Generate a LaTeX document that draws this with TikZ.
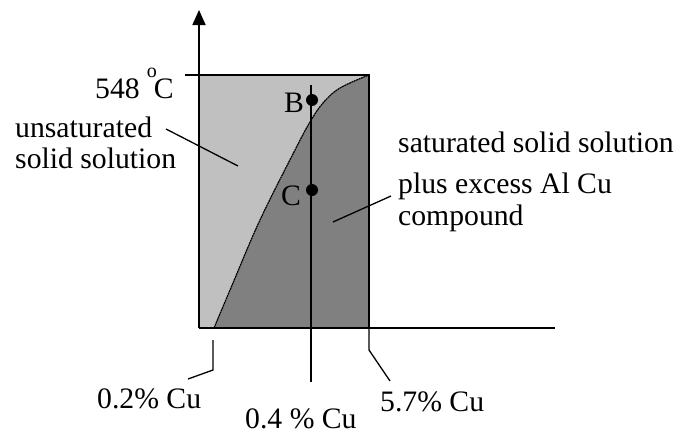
\documentclass[tikz,border=0pt]{standalone}
\usepackage{fontspec}
\setmainfont{Liberation Serif}
\usetikzlibrary{arrows.meta}
\begin{document}
\begin{tikzpicture}[x=1pt,y=-1pt,
  lbl/.style={inner sep=0pt,anchor=base west,font=\fontsize{29.7}{31}\selectfont},
  frame/.style={line width=1.8pt},
  leader/.style={line width=1.3pt},
  dotpt/.style={circle,fill=black,inner sep=0pt,minimum size=12pt}]
\useasboundingbox (0,0) rectangle (681,434);
% regions
\fill[fill={rgb,255:red,192;green,192;blue,192}] (199,75) rectangle (369,328);
\fill[fill={rgb,255:red,128;green,128;blue,128}] plot[smooth,tension=0.6] coordinates {(214,328) (233,283) (260,220) (295,150) (310,122) (323,103) (340,88) (369,75)} -- (369,328) -- cycle;
\draw[line width=1.2pt, dash pattern=on 2pt off 0.6pt] plot[smooth,tension=0.6] coordinates {(214,328) (233,283) (260,220) (295,150) (310,122) (323,103) (340,88) (369,75)};
% frame and axes
\coordinate (o) at (199,328);
\coordinate (ytop) at (199,10);
\coordinate (xend) at (555,328);
\coordinate (tl) at (185,75);
\coordinate (tr) at (369,75);
\coordinate (br) at (369,328);
\draw[frame,-{Triangle[length=15pt,width=13pt]}] (o) -- (ytop);
\draw[frame] (o) -- (xend);
\draw[frame] (tl) -- (tr) -- (br);
% 0.4% line
\coordinate (vtop) at (311,85);
\coordinate (vbot) at (311,382);
\draw[frame] (vtop) -- (vbot);
\node[dotpt] (B) at (312,100) {};
\node[dotpt] (C) at (312,190) {};
\node[lbl] (Bl) at (284,112) {B};
\node[lbl] (Cl) at (281,205) {C};
% labels
\node[lbl] (t548) at (95,98) {548\hspace{7pt}\raisebox{21pt}{\fontsize{20}{20}\selectfont o}\hspace{-3pt}C};
\node[lbl] (uns1) at (15,137) {unsaturated};
\node[lbl] (uns2) at (15,168) {solid solution};
\node[lbl] (sat1) at (398,152) {saturated solid solution};
\node[lbl] (sat2) at (398,193) {plus excess Al Cu};
\node[lbl] (sat3) at (398,225) {compound};
\node[lbl] (p02) at (97,408) {0.2\% Cu};
\node[lbl] (p04) at (245,428) {0.4 \% Cu};
\node[lbl] (p57) at (380,411) {5.7\% Cu};
% leaders
\coordinate (u1) at (166,129);
\coordinate (u2) at (238,166);
\draw[leader] (u1) -- (u2);
\coordinate (s1) at (333,222);
\coordinate (s2) at (391,196);
\draw[leader] (s1) -- (s2);
\coordinate (a1) at (213,340);
\coordinate (a2) at (213,370);
\coordinate (a3) at (188,379);
\draw[leader] (a1) -- (a2) -- (a3);
\coordinate (b2) at (369,350);
\coordinate (b3) at (390,381);
\draw[leader] (br) -- (b2) -- (b3);
\end{tikzpicture}
\end{document}
